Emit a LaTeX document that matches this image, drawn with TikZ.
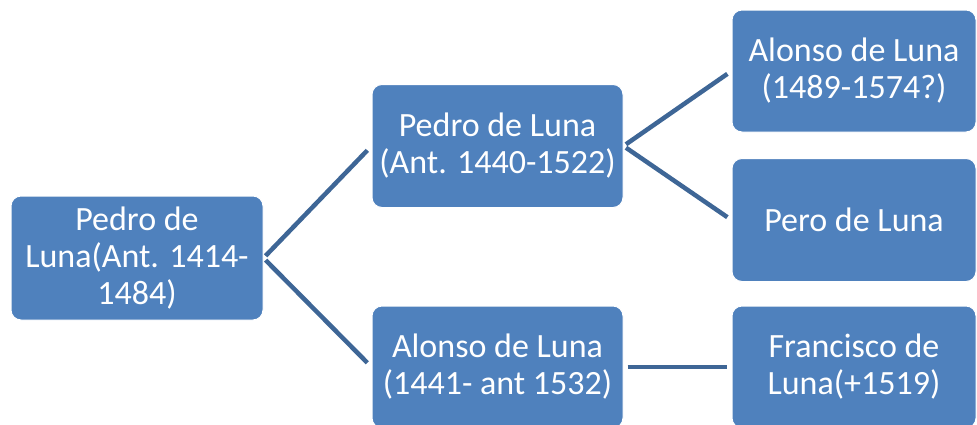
\documentclass[tikz,border=0pt]{standalone}
\usepackage{fontspec}
\setmainfont{Carlito}
\definecolor{boxblue}{RGB}{79,129,189}
\definecolor{linkblue}{RGB}{62,102,150}
\begin{document}
\begin{tikzpicture}[x=1pt,y=-1pt,
  famBox/.style={rectangle, rounded corners=10pt, fill=boxblue, draw=white, line width=1pt,
    text=white, align=center, inner sep=0pt,
    font=\fontsize{34}{37}\selectfont},
  link/.style={draw=linkblue, line width=4.5pt}]
\clip (0,0) rectangle (977,424);
\useasboundingbox (0,0) rectangle (977,424);
\node[famBox, minimum width=252pt, minimum height=124pt] (A) at (137,258) {Pedro de\\Luna(Ant. 1414-\\1484)};
\node[famBox, minimum width=251pt, minimum height=123pt] (B) at (497.5,146) {Pedro de Luna\\(Ant. 1440-1522)};
\node[famBox, minimum width=251pt, minimum height=122pt] (C) at (497.5,367) {Alonso de Luna\\(1441- ant 1532)};
\node[famBox, minimum width=244pt, minimum height=122pt] (D) at (854,71) {Alonso de Luna\\(1489-1574?)};
\node[famBox, minimum width=244pt, minimum height=123pt] (E) at (854,220) {Pero de Luna};
\node[famBox, minimum width=244pt, minimum height=122pt] (F) at (854,367) {Francisco de\\Luna(+1519)};
\draw[link, shorten <=3pt, shorten >=6pt] (A.east) -- (B.west);
\draw[link, shorten <=3pt, shorten >=6pt] (A.east) -- (C.west);
\draw[link, shorten <=3pt, shorten >=5pt] (B.east) -- (D.west);
\draw[link, shorten <=3pt, shorten >=5pt] (B.east) -- (E.west);
\draw[link, shorten <=4pt, shorten >=5pt] (C.east) -- (F.west);
\end{tikzpicture}
\end{document}
